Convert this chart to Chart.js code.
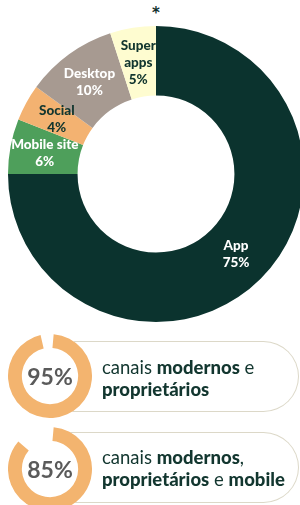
<!DOCTYPE html>
<html><head><meta charset="utf-8">
<script src="https://cdn.jsdelivr.net/npm/chart.js@4"></script>
<style>
html,body{margin:0;padding:0;width:300px;height:505px;overflow:hidden;background:#fff;font-family:Lato,"Noto Sans",sans-serif;}
#main{position:absolute;left:8px;top:26px;}
.star{position:absolute;left:146px;top:4px;width:20px;text-align:center;font:bold 15px "DejaVu Sans";line-height:18px;color:#0f302c;}
.pill{position:absolute;left:50px;width:248px;height:69px;border:1.5px solid #dcd8c8;border-left:none;border-radius:0 36px 36px 0;}
.ringwrap{position:absolute;left:8px;width:84px;height:84px;border-radius:50%;background:#fff;}
.ringwrap canvas{position:absolute;left:0;top:0;}
.pct{position:absolute;left:0;top:0;width:84px;height:84px;text-align:center;font:bold 23px Lato;line-height:84px;color:#5a5a5a;}
.txt{position:absolute;left:102px;font:18.5px Lato;line-height:22px;color:#12362f;white-space:nowrap;}
.txt b{font-weight:900;}
</style></head><body>
<div class="star">*</div>
<canvas id="main" width="296" height="296"></canvas>

<div class="pill" style="top:341px"></div>
<div class="ringwrap" style="top:334px"><canvas id="r1" width="84" height="84"></canvas><div class="pct" id="p1"></div></div>
<div class="txt" style="top:356px">canais <b>modernos</b> e<br><b>proprietários</b></div>

<div class="pill" style="top:432px"></div>
<div class="ringwrap" style="top:427px"><canvas id="r2" width="84" height="84"></canvas><div class="pct" id="p2"></div></div>
<div class="txt" style="top:446px">canais <b>modernos</b>,<br><b>proprietários</b> e <b>mobile</b></div>

<script>
const categories = [["App"], ["Mobile site"], ["Social"], ["Desktop"], ["Super", "apps"]];
const shares = [75, 6, 4, 10, 5];
const sliceColors = ["#0b332e", "#4e9f5b", "#f3b271", "#a79a91", "#fefcd0"];
const labelColors = ["#ffffff", "#ffffff", "#12362f", "#ffffff", "#12362f"];
const ringValues = [95, 85];

const sliceLabels = {
  id: 'sliceLabels',
  afterDatasetsDraw(chart) {
    const ctx = chart.ctx;
    const meta = chart.getDatasetMeta(0);
    ctx.save();
    ctx.font = '900 13.5px Lato';
    ctx.textAlign = 'center';
    ctx.textBaseline = 'middle';
    meta.data.forEach((arc, i) => {
      const p = arc.tooltipPosition();
      const lines = categories[i].concat([shares[i] + '%']);
      const lh = 17;
      const y0 = p.y - (lines.length - 1) * lh / 2;
      ctx.fillStyle = labelColors[i];
      lines.forEach((t, k) => ctx.fillText(t, p.x, y0 + k * lh));
    });
    ctx.restore();
  }
};

new Chart(document.getElementById('main'), {
  type: 'doughnut',
  data: {
    labels: categories.map(c => c.join(' ')),
    datasets: [{ data: shares, backgroundColor: sliceColors, borderWidth: 0 }]
  },
  options: {
    responsive: false, animation: false, cutout: '53%',
    layout: { padding: 0 },
    plugins: { legend: { display: false }, tooltip: { enabled: false } }
  },
  plugins: [sliceLabels]
});

ringValues.forEach((v, i) => {
  document.getElementById('p' + (i + 1)).textContent = v + '%';
  new Chart(document.getElementById('r' + (i + 1)), {
    type: 'doughnut',
    data: { labels: ['a', 'b'], datasets: [{ data: [v, 100 - v], backgroundColor: ['#f3b46f', 'rgba(0,0,0,0)'], borderWidth: 0 }] },
    options: {
      responsive: false, animation: false, cutout: '67%', rotation: 5,
      layout: { padding: 0 },
      plugins: { legend: { display: false }, tooltip: { enabled: false } }
    }
  });
});
</script>
</body></html>
